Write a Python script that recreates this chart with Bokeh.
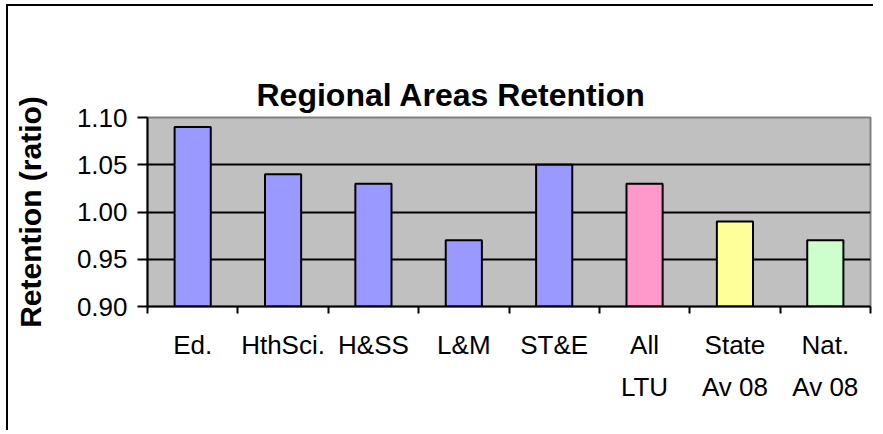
from bokeh.plotting import figure
from bokeh.models import Range1d, FixedTicker, PrintfTickFormatter, ColumnDataSource, LinearAxis
from bokeh.embed import file_html
from bokeh.resources import INLINE
import numpy as np

# ---- data ----
title_text = "Regional Areas Retention"
categories = ["Ed.", "HthSci.", "H&SS", "L&M", "ST&E", "All\nLTU", "State\nAv 08", "Nat.\nAv 08"]
retention = [1.09, 1.04, 1.03, 0.97, 1.05, 1.03, 0.99, 0.97]
bar_colors = ["#9999FF", "#9999FF", "#9999FF", "#9999FF", "#9999FF", "#FF99CC", "#FFFF99", "#CCFFCC"]
y_ticks = [0.90, 0.95, 1.00, 1.05, 1.10]
y_start, y_end = 0.90, 1.10

n = len(categories)
centers = list(np.arange(n) + 0.5)
bounds = list(range(n + 1))

src = ColumnDataSource(dict(x=centers, top=retention, color=bar_colors,
                            bottom=[y_start] * n))

FONT = "Liberation Sans"

p = figure(width=867, height=426, output_backend="svg", toolbar_location=None,
           x_range=Range1d(0, n), y_range=Range1d(y_start, y_end),
           min_border_left=139, min_border_right=5, min_border_top=111,
           min_border_bottom=126)
p.styles = {"border-left": "2px solid black", "border-top": "2px solid black",
            "margin-left": "6px", "margin-top": "4px"}

p.background_fill_color = "#C0C0C0"
p.border_fill_color = "white"
p.outline_line_color = "#808080"
p.outline_line_width = 2

p.vbar(x="x", width=0.4, top="top", bottom="bottom", source=src,
       fill_color="color", line_color="black", line_width=2)

# x axis (the real one, below the frame)
xa = p.below[0]
xa.ticker = FixedTicker(ticks=centers, minor_ticks=bounds)
xa.major_label_overrides = {c: lab for c, lab in zip(centers, categories)}
xa.major_tick_out = 0
xa.major_tick_in = 0
xa.minor_tick_out = 7
xa.minor_tick_in = 0
xa.minor_tick_line_width = 2
xa.minor_tick_line_color = "black"
xa.axis_line_width = 2
xa.axis_line_color = "black"
xa.major_label_text_font = FONT
xa.major_label_text_font_size = "26px"
xa.major_label_text_color = "black"
xa.major_label_text_line_height = 1.4
xa.major_label_standoff = 16

# y axis
ya = p.left[0]
ya.ticker = FixedTicker(ticks=y_ticks)
ya.formatter = PrintfTickFormatter(format="%.2f")
ya.major_tick_out = 10
ya.major_tick_in = 0
ya.minor_tick_line_color = None
ya.major_tick_line_width = 2
ya.major_tick_line_color = "black"
ya.axis_line_width = 2
ya.axis_line_color = "black"
ya.major_label_text_font = FONT
ya.major_label_text_font_size = "26px"
ya.major_label_text_color = "black"
ya.major_label_standoff = 10
ya.axis_label = "Retention (ratio)"
ya.axis_label_text_font = FONT
ya.axis_label_text_font_size = "30px"
ya.axis_label_text_font_style = "bold"
ya.axis_label_text_color = "black"
ya.axis_label_standoff = 27

# spacer axis between the frame and the title (has no ticks, so draws nothing,
# but its tick length reserves room and lifts the title)
spacer = LinearAxis(ticker=FixedTicker(ticks=[]), major_tick_out=52, major_tick_in=0,
                    major_tick_line_color="black", minor_tick_line_color=None,
                    minor_tick_out=0, axis_line_color=None, major_label_standoff=0,
                    major_label_text_font_size="1px")
p.add_layout(spacer, "above")

# title
p.title.text = title_text
p.title.text_font = FONT
p.title.text_font_size = "32px"
p.title.text_font_style = "bold"
p.title.text_color = "black"
p.title.align = "left"
p.title.offset = 109
p.title.standoff = 10

p.xgrid.visible = False
p.ygrid.ticker = FixedTicker(ticks=y_ticks[1:-1])
p.ygrid.grid_line_color = "black"
p.ygrid.grid_line_width = 2

open("out.html", "w").write(file_html(p, INLINE))
